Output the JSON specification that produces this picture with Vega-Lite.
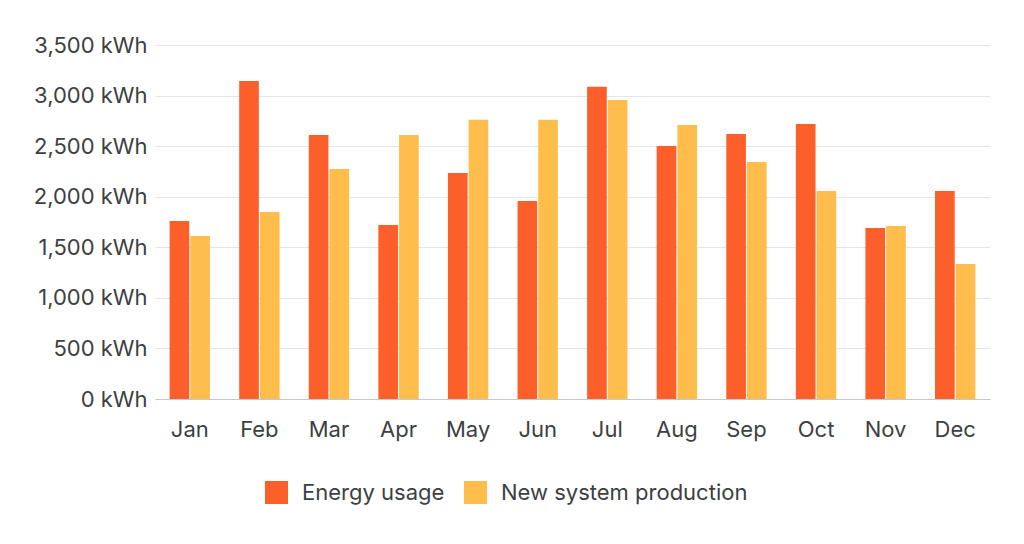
{
  "$schema": "https://vega.github.io/schema/vega-lite/v6.json",
  "background": "white",
  "autosize": {"type": "none"},
  "padding": {"left": 155, "top": 45, "right": 34, "bottom": 145},
  "width": 835,
  "height": 354,
  "data": {
    "values": [
      {"month": "Jan", "series": "Energy usage", "kwh": 1760},
      {"month": "Jan", "series": "New system production", "kwh": 1612},
      {"month": "Feb", "series": "Energy usage", "kwh": 3145},
      {"month": "Feb", "series": "New system production", "kwh": 1850},
      {"month": "Mar", "series": "Energy usage", "kwh": 2611},
      {"month": "Mar", "series": "New system production", "kwh": 2275},
      {"month": "Apr", "series": "Energy usage", "kwh": 1721},
      {"month": "Apr", "series": "New system production", "kwh": 2611},
      {"month": "May", "series": "Energy usage", "kwh": 2235},
      {"month": "May", "series": "New system production", "kwh": 2760},
      {"month": "Jun", "series": "Energy usage", "kwh": 1958},
      {"month": "Jun", "series": "New system production", "kwh": 2760},
      {"month": "Jul", "series": "Energy usage", "kwh": 3086},
      {"month": "Jul", "series": "New system production", "kwh": 2957},
      {"month": "Aug", "series": "Energy usage", "kwh": 2502},
      {"month": "Aug", "series": "New system production", "kwh": 2710},
      {"month": "Sep", "series": "Energy usage", "kwh": 2621},
      {"month": "Sep", "series": "New system production", "kwh": 2344},
      {"month": "Oct", "series": "Energy usage", "kwh": 2720},
      {"month": "Oct", "series": "New system production", "kwh": 2057},
      {"month": "Nov", "series": "Energy usage", "kwh": 1691},
      {"month": "Nov", "series": "New system production", "kwh": 1711},
      {"month": "Dec", "series": "Energy usage", "kwh": 2057},
      {"month": "Dec", "series": "New system production", "kwh": 1335}
    ]
  },
  "mark": {"type": "bar"},
  "encoding": {
    "x": {
      "field": "month",
      "type": "nominal",
      "sort": null,
      "scale": {"paddingInner": 0.42, "paddingOuter": 0.21},
      "axis": {
        "title": null,
        "labelAngle": 0,
        "ticks": false,
        "domainColor": "#c4c8cc",
        "labelPadding": 20,
        "grid": false
      }
    },
    "xOffset": {
      "field": "series",
      "type": "nominal",
      "scale": {"paddingInner": 0.05}
    },
    "y": {
      "field": "kwh",
      "type": "quantitative",
      "scale": {"domain": [0, 3500]},
      "axis": {
        "title": null,
        "values": [0, 500, 1000, 1500, 2000, 2500, 3000, 3500],
        "labelExpr": "format(datum.value, ',') + ' kWh'",
        "domain": false,
        "ticks": false,
        "labelPadding": 8,
        "gridColor": "#e3e5e8"
      }
    },
    "color": {
      "field": "series",
      "type": "nominal",
      "scale": {
        "domain": ["Energy usage", "New system production"],
        "range": ["#fd5f2b", "#ffbd4c"]
      },
      "legend": {
        "title": null,
        "orient": "none",
        "legendX": 110,
        "legendY": 436,
        "direction": "horizontal",
        "symbolType": "square",
        "symbolSize": 529,
        "symbolStrokeWidth": 0,
        "labelFontSize": 22,
        "labelLimit": 400,
        "labelColor": "#3d3f42",
        "columnPadding": 19,
        "labelOffset": 14
      }
    }
  },
  "config": {
    "view": {"stroke": null},
    "font": "Inter",
    "axis": {"labelFontSize": 22, "labelColor": "#3d3f42", "labelFont": "Inter"},
    "legend": {"labelFont": "Inter"}
  }
}
